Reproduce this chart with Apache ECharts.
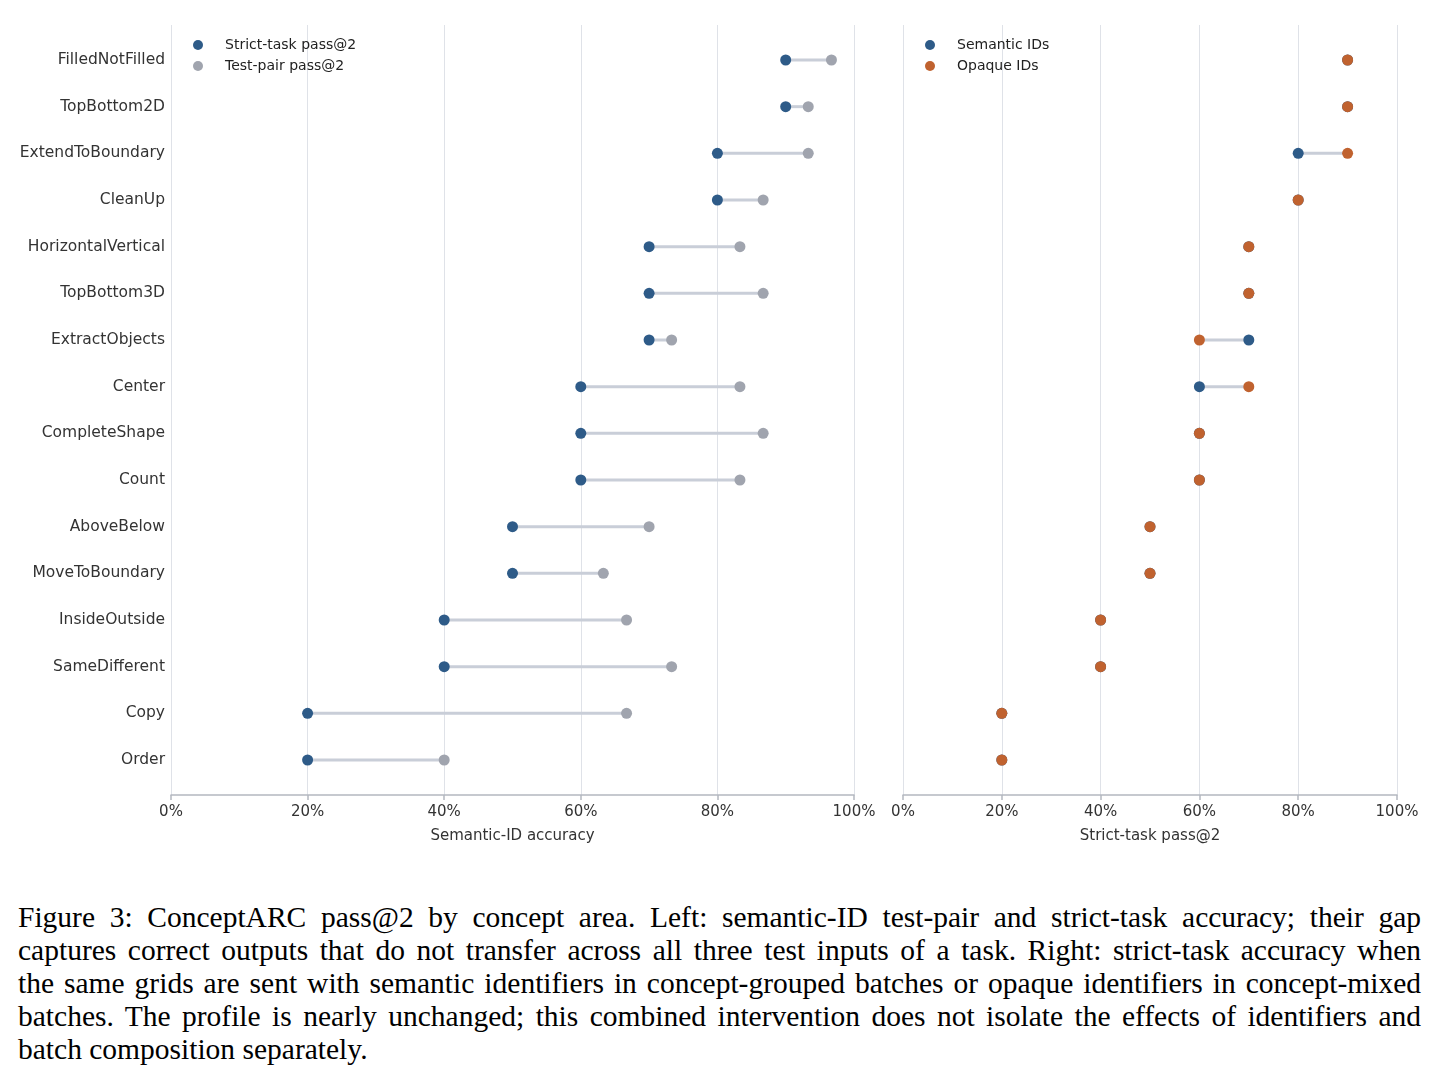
<!DOCTYPE html>
<html>
<head>
    <meta charset="utf-8">
    <title>ConceptARC pass@2</title>
    <script src="https://cdn.jsdelivr.net/npm/echarts@6.0.0/dist/echarts.min.js"></script>
    <style>
        body { margin: 0; background: #fff; }
        #main { position: absolute; left: 0; top: 0; width: 1438px; height: 880px; }
        #caption { position: absolute; left: 18px; top: 901px; width: 1403px;
                   font-family: "Liberation Serif", "DejaVu Serif", serif; font-size: 29.5px; line-height: 33px; color: #000; }
        #caption div { text-align: justify; text-align-last: justify; white-space: nowrap; }
        #caption div.last { text-align-last: left; }
    </style>
</head>
<body>
    <div id="main"></div>
    <div id="caption">
        <div>Figure 3: ConceptARC pass@2 by concept area. Left: semantic-ID test-pair and strict-task accuracy; their gap</div>
        <div>captures correct outputs that do not transfer across all three test inputs of a task. Right: strict-task accuracy when</div>
        <div>the same grids are sent with semantic identifiers in concept-grouped batches or opaque identifiers in concept-mixed</div>
        <div>batches. The profile is nearly unchanged; this combined intervention does not isolate the effects of identifiers and</div>
        <div class="last">batch composition separately.</div>
    </div>
    <script type="text/javascript">
        // 概念类别（从上到下）
        var categories = ['FilledNotFilled', 'TopBottom2D', 'ExtendToBoundary', 'CleanUp', 'HorizontalVertical',
            'TopBottom3D', 'ExtractObjects', 'Center', 'CompleteShape', 'Count', 'AboveBelow',
            'MoveToBoundary', 'InsideOutside', 'SameDifferent', 'Copy', 'Order'];

        // 左图：Strict-task pass@2 / Test-pair pass@2 (%)
        var strictTask = [90, 90, 80, 80, 70, 70, 70, 60, 60, 60, 50, 50, 40, 40, 20, 20];
        var testPair = [96.7, 93.3, 93.3, 86.7, 83.3, 86.7, 73.3, 83.3, 86.7, 83.3, 70, 63.3, 66.7, 73.3, 66.7, 40];

        // 右图：Semantic IDs / Opaque IDs (%)
        var semanticIds = [90, 90, 80, 80, 70, 70, 70, 60, 60, 60, 50, 50, 40, 40, 20, 20];
        var opaqueIds = [90, 90, 90, 80, 70, 70, 60, 70, 60, 60, 50, 50, 40, 40, 20, 20];

        var blue = '#2E5B88';
        var gray = '#A0A4AE';
        var orange = '#C0622F';
        var font = 'DejaVu Sans';

        var myChart = echarts.init(document.getElementById('main'));

        function pts(vals) {
            return vals.map(function (v, i) { return [v, i]; });
        }
        function pairs(a, b) {
            return a.map(function (v, i) { return [v, b[i], i]; });
        }
        function connector(params, api) {
            var p1 = api.coord([api.value(0), api.value(2)]);
            var p2 = api.coord([api.value(1), api.value(2)]);
            return {
                type: 'line',
                shape: { x1: p1[0], y1: p1[1], x2: p2[0], y2: p2[1] },
                style: { stroke: '#C9CED8', lineWidth: 3 }
            };
        }
        function xAxis(idx, name) {
            return {
                gridIndex: idx, type: 'value', min: 0, max: 100, interval: 20,
                name: name, nameLocation: 'middle', nameGap: 34,
                nameTextStyle: { fontFamily: font, fontSize: 15, color: '#333' },
                axisLine: { onZero: false, lineStyle: { color: '#B4B8C0', width: 1.5 } },
                axisTick: { show: true, length: 5, lineStyle: { color: '#B4B8C0', width: 1.5 } },
                axisLabel: { fontFamily: font, fontSize: 15, color: '#333', margin: 10,
                    formatter: function (v) { return v + '%'; } },
                splitLine: { show: true, lineStyle: { color: '#DFE2E8', width: 1 } }
            };
        }
        function yAxis(idx, showLabel) {
            return {
                gridIndex: idx, type: 'value', inverse: true, min: -0.75, max: 15.75,
                axisLine: { show: false, onZero: false }, axisTick: { show: false }, splitLine: { show: false },
                axisLabel: {
                    show: showLabel, fontFamily: font, fontSize: 15.5, color: '#333', margin: 6,
                    padding: [4, 0, 0, 0],
                    customValues: categories.map(function (c, i) { return i; }),
                    formatter: function (v) { return categories[v]; }
                }
            };
        }
        function legend(left, names) {
            return {
                orient: 'vertical', left: left, top: 33, itemGap: 7,
                itemWidth: 10, itemHeight: 10, icon: 'circle', data: names,
                textStyle: { fontFamily: font, fontSize: 14, color: '#222', padding: [0, 0, 0, 17] }
            };
        }

        var option = {
            animation: false,
            grid: [
                { left: 171, right: 584, top: 25, bottom: 85 },
                { left: 903, right: 41, top: 25, bottom: 85 }
            ],
            legend: [
                legend(188, ['Strict-task pass@2', 'Test-pair pass@2']),
                legend(920, ['Semantic IDs', 'Opaque IDs'])
            ],
            xAxis: [xAxis(0, 'Semantic-ID accuracy'), xAxis(1, 'Strict-task pass@2')],
            yAxis: [yAxis(0, true), yAxis(1, false)],
            series: [
                { type: 'custom', xAxisIndex: 0, yAxisIndex: 0, renderItem: connector,
                  encode: { x: [0, 1], y: 2 }, data: pairs(strictTask, testPair), silent: true },
                { type: 'custom', xAxisIndex: 1, yAxisIndex: 1, renderItem: connector,
                  encode: { x: [0, 1], y: 2 }, data: pairs(semanticIds, opaqueIds), silent: true },
                { name: 'Strict-task pass@2', type: 'scatter', xAxisIndex: 0, yAxisIndex: 0,
                  symbolSize: 11, itemStyle: { color: blue, opacity: 1 }, data: pts(strictTask) },
                { name: 'Test-pair pass@2', type: 'scatter', xAxisIndex: 0, yAxisIndex: 0,
                  symbolSize: 11, itemStyle: { color: gray, opacity: 1 }, data: pts(testPair) },
                { name: 'Semantic IDs', type: 'scatter', xAxisIndex: 1, yAxisIndex: 1,
                  symbolSize: 11, itemStyle: { color: blue, opacity: 1 }, data: pts(semanticIds) },
                { name: 'Opaque IDs', type: 'scatter', xAxisIndex: 1, yAxisIndex: 1,
                  symbolSize: 11, itemStyle: { color: orange, opacity: 1 }, data: pts(opaqueIds) }
            ]
        };
        myChart.setOption(option);
    </script>
</body>
</html>
